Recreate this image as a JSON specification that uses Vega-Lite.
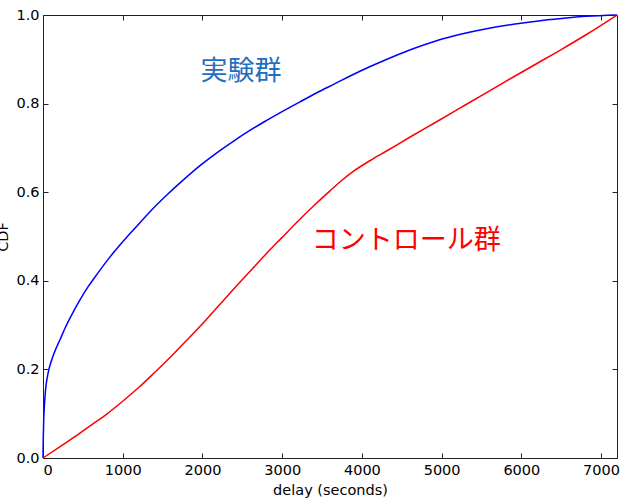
{
  "$schema": "https://vega.github.io/schema/vega-lite/v6.json",
  "width": 574,
  "height": 443,
  "autosize": {"type": "none"},
  "padding": {"left": 43, "top": 15, "right": 26, "bottom": 42},
  "background": "white",
  "config": {
    "view": {"stroke": "#222222", "strokeWidth": 1},
    "axis": {
      "grid": false,
      "domain": false,
      "tickColor": "#222222",
      "tickSize": -5,
      "labelFont": "DejaVu Sans",
      "labelFontSize": 14.5,
      "labelColor": "#000000",
      "titleFont": "DejaVu Sans",
      "titleFontSize": 14.5,
      "titleFontWeight": "normal",
      "titleColor": "#000000"
    }
  },
  "datasets": {
    "curves": [
      {"group": "実験群", "delay": 0, "cdf": 0},
      {"group": "実験群", "delay": 3, "cdf": 0.04},
      {"group": "実験群", "delay": 8, "cdf": 0.08},
      {"group": "実験群", "delay": 15, "cdf": 0.11},
      {"group": "実験群", "delay": 30, "cdf": 0.15},
      {"group": "実験群", "delay": 60, "cdf": 0.188},
      {"group": "実験群", "delay": 110, "cdf": 0.222},
      {"group": "実験群", "delay": 170, "cdf": 0.25},
      {"group": "実験群", "delay": 213, "cdf": 0.267},
      {"group": "実験群", "delay": 276, "cdf": 0.293},
      {"group": "実験群", "delay": 380, "cdf": 0.33},
      {"group": "実験群", "delay": 464, "cdf": 0.357},
      {"group": "実験群", "delay": 560, "cdf": 0.385},
      {"group": "実験群", "delay": 650, "cdf": 0.408},
      {"group": "実験群", "delay": 819, "cdf": 0.449},
      {"group": "実験群", "delay": 1000, "cdf": 0.488},
      {"group": "実験群", "delay": 1170, "cdf": 0.522},
      {"group": "実験群", "delay": 1342, "cdf": 0.556},
      {"group": "実験群", "delay": 1550, "cdf": 0.593},
      {"group": "実験群", "delay": 1750, "cdf": 0.626},
      {"group": "実験群", "delay": 1969, "cdf": 0.66},
      {"group": "実験群", "delay": 2180, "cdf": 0.689},
      {"group": "実験群", "delay": 2387, "cdf": 0.715},
      {"group": "実験群", "delay": 2600, "cdf": 0.74},
      {"group": "実験群", "delay": 2805, "cdf": 0.762},
      {"group": "実験群", "delay": 3010, "cdf": 0.783},
      {"group": "実験群", "delay": 3223, "cdf": 0.804},
      {"group": "実験群", "delay": 3430, "cdf": 0.824},
      {"group": "実験群", "delay": 3640, "cdf": 0.843},
      {"group": "実験群", "delay": 3975, "cdf": 0.873},
      {"group": "実験群", "delay": 4300, "cdf": 0.899},
      {"group": "実験群", "delay": 4600, "cdf": 0.921},
      {"group": "実験群", "delay": 4937, "cdf": 0.942},
      {"group": "実験群", "delay": 5250, "cdf": 0.957},
      {"group": "実験群", "delay": 5564, "cdf": 0.969},
      {"group": "実験群", "delay": 5900, "cdf": 0.979},
      {"group": "実験群", "delay": 6190, "cdf": 0.986},
      {"group": "実験群", "delay": 6500, "cdf": 0.992},
      {"group": "実験群", "delay": 6817, "cdf": 0.997},
      {"group": "実験群", "delay": 7200, "cdf": 1.0},
      {"group": "コントロール群", "delay": 0, "cdf": 0},
      {"group": "コントロール群", "delay": 200, "cdf": 0.024},
      {"group": "コントロール群", "delay": 400, "cdf": 0.048},
      {"group": "コントロール群", "delay": 600, "cdf": 0.0736},
      {"group": "コントロール群", "delay": 800, "cdf": 0.0992},
      {"group": "コントロール群", "delay": 1000, "cdf": 0.128},
      {"group": "コントロール群", "delay": 1200, "cdf": 0.159},
      {"group": "コントロール群", "delay": 1400, "cdf": 0.193},
      {"group": "コントロール群", "delay": 1600, "cdf": 0.228},
      {"group": "コントロール群", "delay": 1800, "cdf": 0.265},
      {"group": "コントロール群", "delay": 2000, "cdf": 0.303},
      {"group": "コントロール群", "delay": 2200, "cdf": 0.343},
      {"group": "コントロール群", "delay": 2400, "cdf": 0.383},
      {"group": "コントロール群", "delay": 2600, "cdf": 0.422},
      {"group": "コントロール群", "delay": 2800, "cdf": 0.461},
      {"group": "コントロール群", "delay": 3000, "cdf": 0.498},
      {"group": "コントロール群", "delay": 3200, "cdf": 0.535},
      {"group": "コントロール群", "delay": 3400, "cdf": 0.57},
      {"group": "コントロール群", "delay": 3600, "cdf": 0.603},
      {"group": "コントロール群", "delay": 3750, "cdf": 0.627},
      {"group": "コントロール群", "delay": 3900, "cdf": 0.648},
      {"group": "コントロール群", "delay": 4100, "cdf": 0.671},
      {"group": "コントロール群", "delay": 4310, "cdf": 0.693},
      {"group": "コントロール群", "delay": 4600, "cdf": 0.724},
      {"group": "コントロール群", "delay": 4937, "cdf": 0.759},
      {"group": "コントロール群", "delay": 5250, "cdf": 0.792},
      {"group": "コントロール群", "delay": 5564, "cdf": 0.825},
      {"group": "コントロール群", "delay": 5900, "cdf": 0.86},
      {"group": "コントロール群", "delay": 6190, "cdf": 0.89},
      {"group": "コントロール群", "delay": 6500, "cdf": 0.922},
      {"group": "コントロール群", "delay": 6817, "cdf": 0.956},
      {"group": "コントロール群", "delay": 7200, "cdf": 1.0}
    ],
    "labels": [
      {"group": "実験群", "delay": 2483, "cdf": 0.872},
      {"group": "コントロール群", "delay": 4558, "cdf": 0.489}
    ]
  },
  "layer": [
    {
      "data": {"name": "curves"},
      "mark": {"type": "line", "strokeWidth": 1.5, "interpolate": "monotone"},
      "encoding": {
        "x": {
          "field": "delay",
          "type": "quantitative",
          "scale": {"domain": [0, 7200], "nice": false},
          "axis": {
            "orient": "bottom",
            "title": "delay (seconds)",
            "values": [0, 1000, 2000, 3000, 4000, 5000, 6000, 7000],
            "format": "d",
            "labelPadding": 10,
            "labelBaseline": "top",
            "titleBaseline": "alphabetic",
            "titleY": 36.7
          }
        },
        "y": {
          "field": "cdf",
          "type": "quantitative",
          "scale": {"domain": [0, 1], "nice": false},
          "axis": {
            "orient": "left",
            "title": "CDF",
            "values": [0, 0.2, 0.4, 0.6, 0.8, 1.0],
            "format": ".1f",
            "labelPadding": 9,
            "titleAngle": 270,
            "titleBaseline": "alphabetic",
            "titleX": -36,
            "titleY": 221.5
          }
        },
        "color": {
          "field": "group",
          "type": "nominal",
          "scale": {"domain": ["実験群", "コントロール群"], "range": ["#0000ff", "#ff0000"]},
          "legend": null
        }
      }
    },
    {
      "data": {"name": "labels"},
      "mark": {"type": "text", "fontSize": 27, "font": "Noto Sans CJK JP", "align": "center", "baseline": "middle"},
      "encoding": {
        "x": {
          "field": "delay",
          "type": "quantitative",
          "axis": {
            "orient": "top",
            "title": null,
            "labels": false,
            "values": [0, 1000, 2000, 3000, 4000, 5000, 6000, 7000]
          }
        },
        "y": {
          "field": "cdf",
          "type": "quantitative",
          "axis": {
            "orient": "right",
            "title": null,
            "labels": false,
            "values": [0, 0.2, 0.4, 0.6, 0.8, 1.0]
          }
        },
        "text": {"field": "group", "type": "nominal"},
        "color": {
          "field": "group",
          "type": "nominal",
          "scale": {"domain": ["実験群", "コントロール群"], "range": ["#1f6fbf", "#ff0000"]},
          "legend": null
        }
      }
    }
  ],
  "resolve": {
    "axis": {"x": "independent", "y": "independent"},
    "scale": {"color": "independent"}
  }
}
